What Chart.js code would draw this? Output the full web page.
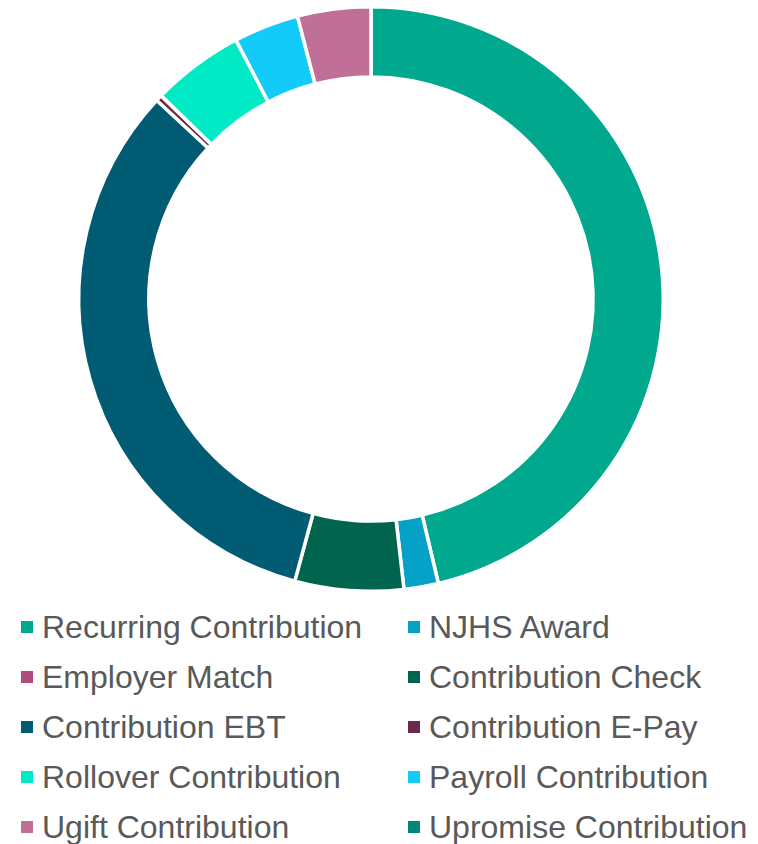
<!DOCTYPE html>
<html>
<head>
<meta charset="utf-8">
<script src="https://cdn.jsdelivr.net/npm/chart.js@4.4.1/dist/chart.umd.min.js"></script>
<style>
  html, body { margin: 0; padding: 0; background: #fff; }
  #wrap { position: relative; width: 758px; height: 844px; overflow: hidden; }
  #chartBox { position: absolute; left: 0; top: 5px; width: 742px; height: 588px; }
  #legend {
    position: absolute; left: 21px; top: 602px;
    display: grid; grid-template-columns: 387px 340px; grid-auto-rows: 50px;
    font-family: 'Liberation Sans', Arial, sans-serif; font-size: 32px; color: #595959;
  }
  .item { display: flex; align-items: center; white-space: nowrap; }
  .box { width: 12px; height: 12px; margin-right: 9px; flex: none; }
</style>
</head>
<body>
<div id="wrap">
  <div id="chartBox"><canvas id="donut"></canvas></div>
  <div id="legend"></div>
</div>
<script>
// Categories, in drawing order (clockwise from 12 o'clock)
const categories = [
  'Recurring Contribution', 'NJHS Award',
  'Employer Match', 'Contribution Check',
  'Contribution EBT', 'Contribution E-Pay',
  'Rollover Contribution', 'Payroll Contribution',
  'Ugift Contribution', 'Upromise Contribution'
];

// Share of total, %
const shares = [46.3, 1.9, 0, 6.0, 32.7, 0.35, 5.1, 3.6, 4.05, 0];

const sliceColors = [
  '#00A98D', '#05A1C6',
  '#B04C7F', '#00644F',
  '#005B73', '#6B2A4B',
  '#00EAC6', '#12CBF8',
  '#C07097', '#00877A'
];

const ctx = document.getElementById('donut').getContext('2d');
new Chart(ctx, {
  type: 'doughnut',
  data: {
    labels: categories,
    datasets: [{
      data: shares,
      backgroundColor: sliceColors,
      borderColor: '#ffffff',
      borderWidth: 3.5,
    }],
  },
  options: {
    responsive: true,
    maintainAspectRatio: false,
    animation: false,
    cutout: '76%',
    layout: { padding: 0 },
    plugins: {
      legend: { display: false },
      tooltip: { enabled: false },
    },
  },
});

// Legend (two columns, row by row)
const legendEl = document.getElementById('legend');
categories.forEach((name, i) => {
  const item = document.createElement('div');
  item.className = 'item';
  const box = document.createElement('span');
  box.className = 'box';
  box.style.background = sliceColors[i];
  item.appendChild(box);
  item.appendChild(document.createTextNode(name));
  legendEl.appendChild(item);
});
</script>
</body>
</html>
